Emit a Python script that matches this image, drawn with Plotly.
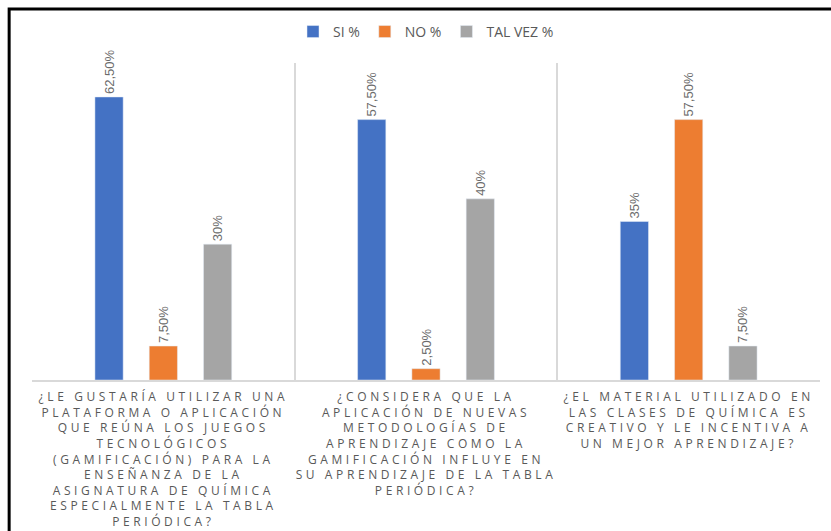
import plotly.graph_objects as go

# questions (x categories)
preguntas = [
    "¿LE GUSTARÍA UTILIZAR UNA<br>PLATAFORMA O APLICACIÓN<br>QUE REÚNA LOS JUEGOS<br>TECNOLÓGICOS<br>(GAMIFICACIÓN) PARA LA<br>ENSEÑANZA DE LA<br>ASIGNATURA DE QUÍMICA<br>ESPECIALMENTE LA TABLA<br>PERIÓDICA?",
    "¿CONSIDERA QUE LA<br>APLICACIÓN DE NUEVAS<br>METODOLOGÍAS DE<br>APRENDIZAJE COMO LA<br>GAMIFICACIÓN INFLUYE EN<br>SU APRENDIZAJE DE LA TABLA<br>PERIÓDICA?",
    "¿EL MATERIAL UTILIZADO EN<br>LAS CLASES DE QUÍMICA ES<br>CREATIVO Y LE INCENTIVA A<br>UN MEJOR APRENDIZAJE?",
]
si = [62.5, 57.5, 35]
no = [7.5, 2.5, 57.5]
tal_vez = [30, 40, 7.5]
si_txt = ["62,50%", "57,50%", "35%"]
no_txt = ["7,50%", "2,50%", "57,50%"]
tal_vez_txt = ["30%", "40%", "7,50%"]

GRIS = "#595959"
LS = '<span style="letter-spacing:3.6px">'

cats = [LS + p.replace("<br>", "</span><br>" + LS) + "</span>" for p in preguntas]

fig = go.Figure()
for name, vals, txt, color in [
    ("SI %", si, si_txt, "#4472C4"),
    ("NO %", no, no_txt, "#ED7D31"),
    ("TAL VEZ %", tal_vez, tal_vez_txt, "#A5A5A5"),
]:
    fig.add_trace(go.Bar(
        x=cats, y=vals, name=name, marker_color=color,
        text=txt, textposition="outside", textangle=-90, constraintext="none",
        textfont=dict(size=13, color="#6b6b6b", family="Liberation Sans Narrow, Liberation Sans"),
        cliponaxis=False,
    ))

fig.update_layout(
    width=831, height=531,
    margin=dict(l=32, r=11, t=63, b=151),
    paper_bgcolor="white", plot_bgcolor="white",
    barmode="group", bargap=0.38, bargroupgap=0.48,
    font=dict(family="Open Sans, Liberation Sans, sans-serif", color=GRIS),
    legend=dict(orientation="h", x=0.5, xanchor="center", y=1.098, yanchor="middle",
                font=dict(size=14, color=GRIS), itemwidth=30, traceorder="normal"),
    xaxis=dict(tickson="boundaries", showgrid=True, gridcolor="#D9D9D9", gridwidth=1.5,
               ticks="", showline=True, linecolor="#D9D9D9", linewidth=1.5,
               automargin=False, tickangle=0, ticklabelstandoff=5,
               tickfont=dict(size=12, color=GRIS,
                             family="Open Sans, Liberation Sans, sans-serif")),
    yaxis=dict(range=[0, 70], visible=False),
    shapes=[dict(type="rect", xref="paper", yref="paper",
                 x0=-0.029, x1=1.2, y0=-1, y1=1.17,
                 line=dict(color="black", width=3))],
)

fig.write_html("out.html", config={"displayModeBar": False},
               post_script="document.body.style.margin='0';")
